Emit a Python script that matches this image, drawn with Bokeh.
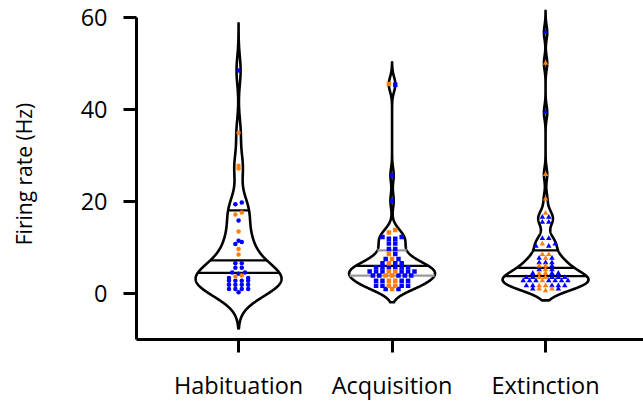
import numpy as np
from bokeh.plotting import figure
from bokeh.models import Range1d, FixedTicker, ColumnDataSource
from bokeh.embed import file_html
from bokeh.resources import INLINE

# ---- data -----------------------------------------------------------------
categories = ["Habituation", "Acquisition", "Extinction"]

hab_blue = [48.5, 19.8, 19.4, 15.9, 11.5, 11.2, 10.8, 6.6, 6.6, 5.6, 5.6,
            4.6, 4.6, 4.3, 3.4, 3.4, 2.8, 2.8, 2.8, 2.8, 1.9, 1.9, 1.9, 1.9,
            1.0, 1.0, 1.0, 1.0, 0.3]
hab_orange = [35.0, 27.8, 27.2, 17.6, 17.2, 13.5, 9.7, 8.5, 3.9, 3.7]

acq_blue = [45.4, 25.7, 20.2, 12.3, 12.3, 11.9, 11.9, 10.9, 10.9, 9.7, 9.7,
            8.6, 7.5, 7.5, 6.6, 6.6, 6.6, 5.7, 5.7, 5.7, 5.7, 5.7, 5.7,
            4.8, 4.8, 4.8, 4.8, 4.8, 4.8, 3.9, 3.9, 3.9, 3.9, 3.9,
            2.8, 2.8, 2.8, 2.8, 1.7, 1.7, 1.7, 1.7, 1.0, 1.0]
acq_orange = [45.6, 13.8, 13.3, 8.6, 7.5, 6.6, 4.8, 4.8, 3.9, 3.9, 2.8, 2.8,
              1.7, 1.7, 1.0]

ext_blue = [56.8, 39.4, 16.6, 16.6, 15.5, 15.5, 12.0, 12.0, 10.8, 10.3,
            10.3, 7.7, 7.7, 6.7, 6.7, 6.7, 6.0, 5.2, 5.2, 4.4, 4.4, 4.4,
            3.5, 3.5, 3.5, 3.5, 3.5, 2.8, 2.8, 2.8, 2.8, 2.8, 2.8, 2.8,
            1.7, 1.7, 1.7, 1.7, 1.7, 1.0, 1.0]
ext_orange = [50.1, 25.9, 20.6, 17.5, 10.8, 8.5, 8.5, 7.7, 6.0, 6.0, 5.2,
              4.4, 4.4, 3.5, 3.5, 2.8, 1.7, 1.7, 1.0, 1.0, 0.6]

# lower quartile, median, upper quartile of each group
quartiles = [[4.5, 7.2, 18.1], [3.9, 6.0, 9.4], [3.8, 5.6, 9.4]]
# extent of each density outline
violin_low = [-7.6, -1.9, -1.5]
violin_high = [58.8, 50.3, 61.5]
bandwidths = [3.1, 1.6, 1.5]

y_ticks = [0, 20, 40, 60]

blue_sets = [hab_blue, acq_blue, ext_blue]
orange_sets = [hab_orange, acq_orange, ext_orange]
markers = ["circle", "square", "triangle"]
marker_sizes = [4.5, 4.5, 5.5]
BLUE, ORANGE = "#0000ff", "#ff7f0e"

# ---- layout ---------------------------------------------------------------
W, H = 643, 403
B_LEFT, B_RIGHT, B_TOP, B_BOTTOM = 136, 0, 8, 64
X0, X1 = -0.665, 2.638
Y0, Y1 = -10, 62
px_per_x = (W - B_LEFT - B_RIGHT) / (X1 - X0)
half_width_max = 0.28
row_spacing_px = 6.4
row_tol = 0.55

FONT = "Open Sans"

p = figure(width=W, height=H, x_range=Range1d(X0, X1), y_range=Range1d(Y0, Y1),
           output_backend="svg", toolbar_location=None,
           min_border_left=B_LEFT, min_border_right=B_RIGHT,
           min_border_top=B_TOP, min_border_bottom=B_BOTTOM)
p.outline_line_color = None
p.xgrid.visible = False
p.ygrid.visible = False
p.background_fill_color = "white"
p.border_fill_color = "white"


def density(values, grid, bw):
    v = np.asarray(values, dtype=float)[:, None]
    return np.exp(-0.5 * ((grid[None, :] - v) / bw) ** 2).sum(axis=0)


for i, cat in enumerate(categories):
    vals = np.array(blue_sets[i] + orange_sets[i], dtype=float)
    grid = np.linspace(violin_low[i], violin_high[i], 800)
    dens = density(vals, grid, bandwidths[i])
    scale = half_width_max / dens.max()
    hw = dens * scale
    xs = np.concatenate([i + hw, (i - hw)[::-1]])
    ys = np.concatenate([grid, grid[::-1]])
    p.patch(xs, ys, fill_color=None, line_color="black", line_width=2.6,
            line_join="round")

    # quartile / median lines across the outline
    for j, q in enumerate(quartiles[i]):
        w = density(vals, np.array([q]), bandwidths[i])[0] * scale
        color = "#9a9a9a" if (i == 1 and j != 1) else "black"
        p.segment(x0=[i - w], y0=[q], x1=[i + w], y1=[q],
                  line_color=color, line_width=2.2)

    # binned swarm: values in the same row spread sideways
    labelled = [(v, 0) for v in blue_sets[i]] + [(v, 1) for v in orange_sets[i]]
    labelled.sort(key=lambda t: t[0])
    rows, cur = [], []
    for item in labelled:
        if cur and item[0] - cur[0][0] > row_tol:
            rows.append(cur)
            cur = []
        cur.append(item)
    if cur:
        rows.append(cur)

    pts = {0: ([], []), 1: ([], [])}
    step = row_spacing_px / px_per_x
    for row in rows:
        n = len(row)
        slots = [(k - (n - 1) / 2) * step for k in range(n)]
        slots.sort(key=lambda s: (abs(s), s))
        ordered = [r for r in row if r[1] == 1] + [r for r in row if r[1] == 0]
        for (v, hue), s in zip(ordered, slots):
            pts[hue][0].append(i + s)
            pts[hue][1].append(v)

    for hue, color in ((0, BLUE), (1, ORANGE)):
        src = ColumnDataSource(dict(x=pts[hue][0], y=pts[hue][1]))
        p.scatter("x", "y", source=src, marker=markers[i], size=marker_sizes[i],
                  fill_color=color, line_color=None)

# ---- axes -----------------------------------------------------------------
yax = p.yaxis[0]
yax.ticker = FixedTicker(ticks=y_ticks)
yax.bounds = (-10, 60)
yax.axis_label = "Firing rate (Hz)"
yax.axis_label_text_font = FONT
yax.axis_label_text_font_size = "21px"
yax.axis_label_text_font_style = "normal"
yax.axis_label_text_color = "black"
yax.axis_label_standoff = 40
yax.major_label_standoff = 16
yax.major_label_text_font = FONT
yax.major_label_text_font_size = "23.5px"
yax.major_label_text_color = "black"

xax = p.xaxis[0]
xax.ticker = FixedTicker(ticks=[0, 1, 2])
xax.major_label_overrides = {k: c for k, c in enumerate(categories)}
xax.major_label_standoff = 16
xax.major_label_text_font = FONT
xax.major_label_text_font_size = "23.5px"
xax.major_label_text_color = "black"

for ax in (xax, yax):
    ax.axis_line_width = 3
    ax.axis_line_color = "black"
    ax.major_tick_line_width = 3
    ax.major_tick_line_color = "black"
    ax.major_tick_out = 13
    ax.major_tick_in = 0
    ax.minor_tick_line_color = None

open("out.html", "w").write(file_html(p, INLINE))
